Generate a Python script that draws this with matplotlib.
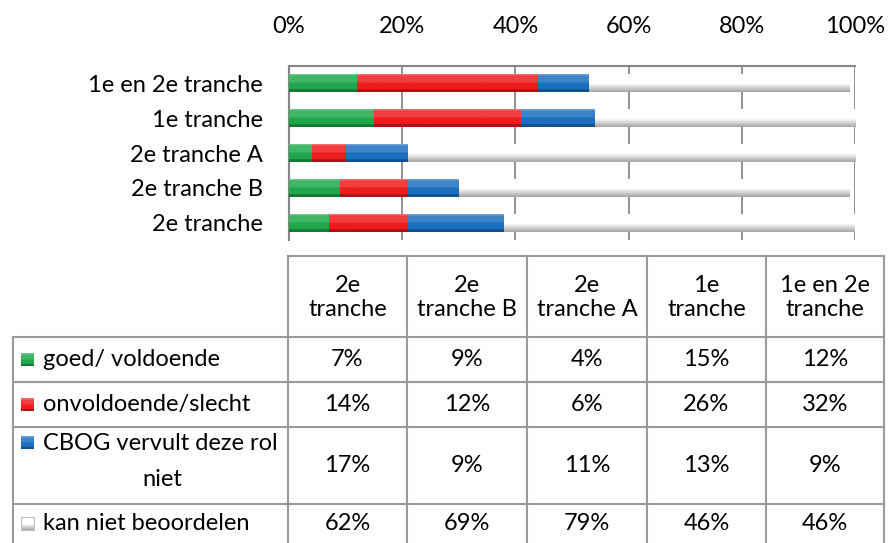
import matplotlib
matplotlib.use("Agg")
import matplotlib.pyplot as plt
import numpy as np
from matplotlib.colors import to_rgb

# ---------------- data ----------------
categories = ["2e tranche", "2e tranche B", "2e tranche A", "1e tranche", "1e en 2e tranche"]
table_headers = ["2e\ntranche", "2e\ntranche B", "2e\ntranche A", "1e\ntranche", "1e en 2e\ntranche"]
series_names = ["goed/ voldoende", "onvoldoende/slecht", "CBOG vervult deze rol\nniet", "kan niet beoordelen"]
goed = [7, 9, 4, 15, 12]
onvoldoende = [14, 12, 6, 26, 32]
cbog = [17, 9, 11, 13, 9]
kan_niet = [62, 69, 79, 46, 46]
series_values = [goed, onvoldoende, cbog, kan_niet]
xticks = [0, 20, 40, 60, 80, 100]
xtick_labels = ["0%", "20%", "40%", "60%", "80%", "100%"]

colors = ["#1fa84c", "#ee1c1c", "#1b6fbf", "#f4f4f4"]

plt.rcParams['font.family'] = ['Lato', 'DejaVu Sans']
W, H = 889, 543
fig = plt.figure(figsize=(W / 100, H / 100), dpi=100)
FS = 17


def fx(px):
    return px / W


def fy(py):
    return 1 - py / H


def grad_img(c):
    r, g, b = to_rgb(c)
    base = np.array([r, g, b])
    n = 40
    t = np.linspace(0, 1, n)
    img = np.zeros((n, 1, 3))
    for i, tt in enumerate(t):
        if tt < 0.12:
            col = base + (1 - base) * 0.35
        elif tt < 0.5:
            col = base + (1 - base) * 0.15
        elif tt < 0.85:
            col = base
        else:
            col = base * 0.72
        img[i, 0, :] = np.clip(col, 0, 1)
    return img


def grad_white():
    n = 40
    t = np.linspace(0, 1, n)
    img = np.zeros((n, 1, 3))
    for i, tt in enumerate(t):
        if tt < 0.55:
            v = 1.0
        else:
            v = 1.0 - (tt - 0.55) / 0.45 * 0.35
        img[i, 0, :] = v
    return img


# ---------------- bar chart ----------------
ax = fig.add_axes([fx(289), fy(240), fx(855) - fx(289), fy(66) - fy(240)])
ypos = np.arange(len(categories))
left = np.zeros(len(categories))
for vals, c in zip(series_values, colors):
    bars = ax.barh(ypos, vals, left=left, height=0.52, color=c, edgecolor="none", zorder=3)
    img = grad_white() if c == colors[-1] else grad_img(c)
    for b in bars:
        x0, y0, w, h = b.get_x(), b.get_y(), b.get_width(), b.get_height()
        im = ax.imshow(img, extent=[x0, x0 + w, y0, y0 + h], aspect="auto",
                       origin="upper", zorder=3.5, interpolation="bilinear")
        im.set_clip_path(b)
    left = left + np.array(vals)

ax.set_xlim(0, 100)
ax.set_ylim(-0.5, len(categories) - 0.5)
ax.set_yticks(ypos)
ax.set_yticklabels(categories, fontsize=FS, color="#000000")
ax.xaxis.tick_top()
ax.set_xticks(xticks)
ax.set_xticklabels(xtick_labels, fontsize=FS, color="#000000")
ax.tick_params(axis="x", length=0, pad=21)
ax.tick_params(axis="y", length=0, pad=19)
ax.grid(axis="x", color="#7f7f7f", linewidth=1.2, zorder=1)
ax.set_axisbelow(True)
for s in ["bottom", "right"]:
    ax.spines[s].set_visible(False)
for s in ["top", "left"]:
    ax.spines[s].set_color("#868686")
    ax.spines[s].set_linewidth(1.5)

# ---------------- data table ----------------
tax = fig.add_axes([0, 0, 1, 1])
tax.set_xlim(0, W)
tax.set_ylim(H, 0)
tax.axis("off")

col_x = [13, 288, 407, 527, 647, 766, 884]
row_y = [256, 337, 382, 427, 504, 560]
lc = "#9a9a9a"
lw = 1.5
tax.plot([col_x[1], col_x[-1]], [row_y[0], row_y[0]], color=lc, lw=lw)
for x in col_x[1:]:
    tax.plot([x, x], [row_y[0], row_y[-1]], color=lc, lw=lw)
tax.plot([col_x[0], col_x[0]], [row_y[1], row_y[-1]], color=lc, lw=lw)
for y in row_y[1:-1]:
    tax.plot([col_x[0], col_x[-1]], [y, y], color=lc, lw=lw)

for j, hdr in enumerate(table_headers):
    cx = (col_x[j + 1] + col_x[j + 2]) / 2
    tax.text(cx, (row_y[0] + row_y[1]) / 2 + 1, hdr, ha="center", va="center",
             fontsize=FS, linespacing=1.2)

for i, (name, vals, c) in enumerate(zip(series_names, series_values, colors)):
    y0, y1 = row_y[i + 1], min(row_y[i + 2], H)
    cy = (y0 + y1) / 2
    ky = y0 + 16 if "\n" in name else cy
    img = grad_white() if c == colors[-1] else grad_img(c)
    tax.imshow(img, extent=[21, 34, ky + 6.5, ky - 6.5], aspect="auto", zorder=4,
               interpolation="bilinear")
    if c == colors[-1]:
        tax.plot([21, 34, 34, 21, 21], [ky - 6.5, ky - 6.5, ky + 6.5, ky + 6.5, ky - 6.5],
                 color="#c0c0c0", lw=0.8, zorder=5)
    if "\n" in name:
        first, second = name.split("\n")
        tax.text(43, y0 + 16, first, ha="left", va="center", fontsize=FS)
        tax.text(162, y0 + 52, second, ha="center", va="center", fontsize=FS)
    else:
        tax.text(43, cy, name, ha="left", va="center", fontsize=FS)
    for j, v in enumerate(vals):
        cx = (col_x[j + 1] + col_x[j + 2]) / 2
        tax.text(cx, cy, f"{v}%", ha="center", va="center", fontsize=FS)

fig.savefig("out.png", dpi=100)
